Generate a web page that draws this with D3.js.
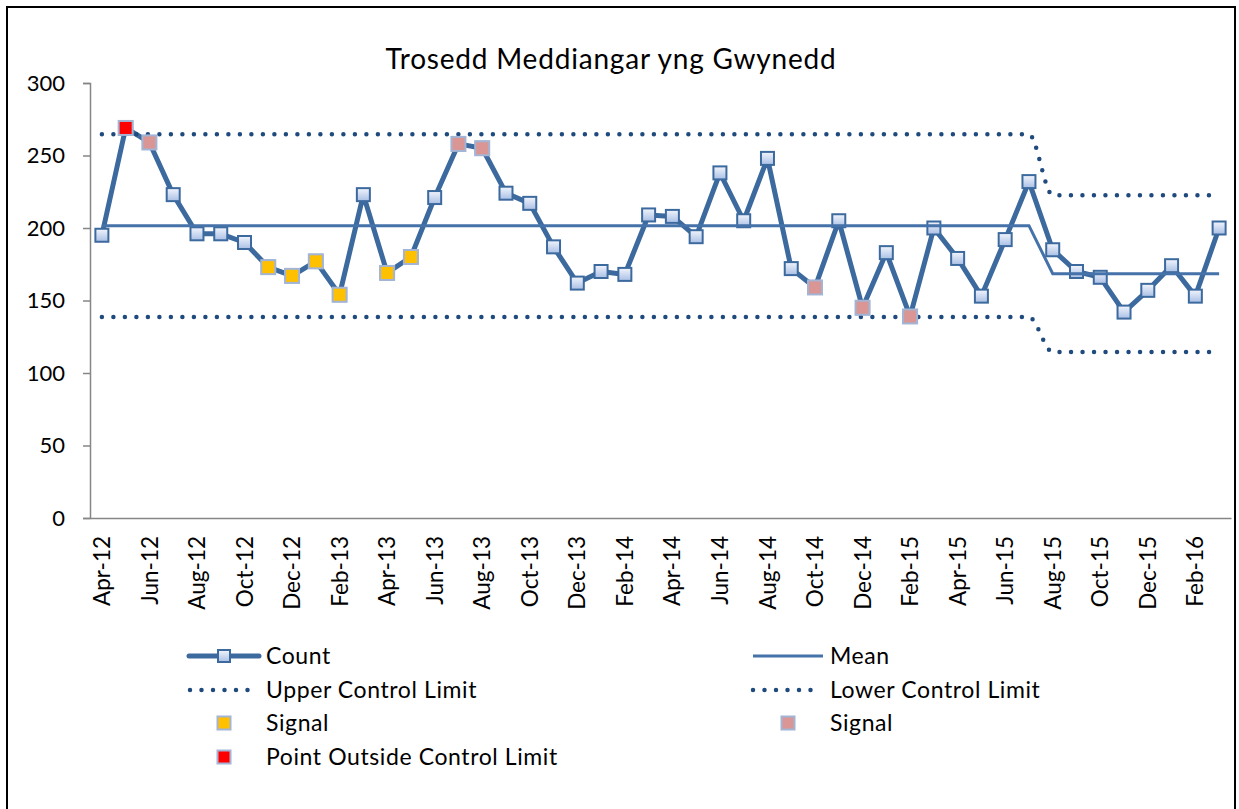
<!DOCTYPE html>
<html>
<head>
<meta charset="utf-8">
<script src="https://cdn.jsdelivr.net/npm/d3@7"></script>
<style>
  body { margin: 0; background: #fff; }
  text { font-family: Lato, "Open Sans", sans-serif; fill: #000; }
</style>
</head>
<body>
<div id="chart"></div>
<script>
var months = ['Apr-12','May-12','Jun-12','Jul-12','Aug-12','Sep-12','Oct-12','Nov-12','Dec-12',
  'Jan-13','Feb-13','Mar-13','Apr-13','May-13','Jun-13','Jul-13','Aug-13','Sep-13','Oct-13','Nov-13','Dec-13',
  'Jan-14','Feb-14','Mar-14','Apr-14','May-14','Jun-14','Jul-14','Aug-14','Sep-14','Oct-14','Nov-14','Dec-14',
  'Jan-15','Feb-15','Mar-15','Apr-15','May-15','Jun-15','Jul-15','Aug-15','Sep-15','Oct-15','Nov-15','Dec-15',
  'Jan-16','Feb-16','Mar-16'];

var counts = [195, 269, 259, 223, 196, 196, 190, 173, 167,
  177, 154, 223, 169, 180, 221, 258, 255, 224, 217, 187, 162,
  170, 168, 209, 208, 194, 238, 205, 248, 172, 159, 205, 145,
  183, 139, 200, 179, 153, 192, 232, 185, 170, 166, 142, 157,
  174, 153, 200];

var mean = [201.6, 201.6, 201.6, 201.6, 201.6, 201.6, 201.6, 201.6, 201.6,
  201.6, 201.6, 201.6, 201.6, 201.6, 201.6, 201.6, 201.6, 201.6, 201.6, 201.6, 201.6,
  201.6, 201.6, 201.6, 201.6, 201.6, 201.6, 201.6, 201.6, 201.6, 201.6, 201.6, 201.6,
  201.6, 201.6, 201.6, 201.6, 201.6, 201.6, 201.6, 168.5, 168.5, 168.5, 168.5, 168.5,
  168.5, 168.5, 168.5];

var ucl = [264.6, 264.6, 264.6, 264.6, 264.6, 264.6, 264.6, 264.6, 264.6,
  264.6, 264.6, 264.6, 264.6, 264.6, 264.6, 264.6, 264.6, 264.6, 264.6, 264.6, 264.6,
  264.6, 264.6, 264.6, 264.6, 264.6, 264.6, 264.6, 264.6, 264.6, 264.6, 264.6, 264.6,
  264.6, 264.6, 264.6, 264.6, 264.6, 264.6, 264.6, 222.6, 222.6, 222.6, 222.6, 222.6,
  222.6, 222.6, 222.6];

var lcl = [138.6, 138.6, 138.6, 138.6, 138.6, 138.6, 138.6, 138.6, 138.6,
  138.6, 138.6, 138.6, 138.6, 138.6, 138.6, 138.6, 138.6, 138.6, 138.6, 138.6, 138.6,
  138.6, 138.6, 138.6, 138.6, 138.6, 138.6, 138.6, 138.6, 138.6, 138.6, 138.6, 138.6,
  138.6, 138.6, 138.6, 138.6, 138.6, 138.6, 138.6, 114.4, 114.4, 114.4, 114.4, 114.4,
  114.4, 114.4, 114.4];

// months flagged in each signal series
var signalYellow = ['Nov-12', 'Dec-12', 'Jan-13', 'Feb-13', 'Apr-13', 'May-13'];
var signalPink = ['Jun-12', 'Jul-13', 'Aug-13', 'Oct-14', 'Dec-14', 'Feb-15'];
var outsideLimit = ['May-12'];

var yTicks = [0, 50, 100, 150, 200, 250, 300];

document.addEventListener("DOMContentLoaded", function() {
  var width = 1239,
      height = 809;

  var svg = d3.select('#chart').append('svg')
    .attr('width', width)
    .attr('height', height);

  svg.append('rect')
    .attr('width', width).attr('height', height)
    .attr('fill', '#fff');

  // outer frame (bottom edge runs off the picture)
  svg.append('rect')
    .attr('x', 7).attr('y', 7)
    .attr('width', 1228).attr('height', 900)
    .attr('fill', 'none')
    .attr('stroke', '#000')
    .attr('stroke-width', 2);

  var defs = svg.append('defs');
  var grad = defs.append('linearGradient')
    .attr('id', 'markerFill')
    .attr('x1', 0).attr('y1', 0).attr('x2', 0).attr('y2', 1);
  grad.append('stop').attr('offset', '0%').attr('stop-color', '#f2f5fc');
  grad.append('stop').attr('offset', '100%').attr('stop-color', '#a9bfe5');

  var x = d3.scaleBand()
    .domain(months)
    .range([90, 1231]);

  var y = d3.scaleLinear()
    .domain([0, 300])
    .range([518, 83]);

  function cx(d) { return x(d) + x.bandwidth() / 2; }

  // title
  svg.append('text')
    .attr('x', 611)
    .attr('y', 69)
    .attr('text-anchor', 'middle')
    .style('font-size', '28px')
    .style('letter-spacing', '0.8px')
    .text('Trosedd Meddiangar yng Gwynedd');

  // y axis
  var yAxis = svg.append('g')
    .attr('transform', 'translate(90,0)')
    .call(d3.axisLeft(y).tickValues(yTicks).tickSize(7).tickPadding(18));
  yAxis.select('.domain').attr('stroke', '#868686').attr('stroke-width', 1.5);
  yAxis.selectAll('.tick line').attr('stroke', '#868686').attr('stroke-width', 1.5);
  yAxis.selectAll('.tick text')
    .style('font-size', '22px')
    .style('font-family', 'Lato, sans-serif')
    .attr('fill', '#000');

  // x axis
  var xAxis = svg.append('g')
    .attr('transform', 'translate(0,518)')
    .call(d3.axisBottom(x)
      .tickValues(months.filter(function(d, i) { return i % 2 === 0; }))
      .tickSize(0)
      .tickSizeOuter(0));
  xAxis.select('.domain').attr('stroke', '#868686').attr('stroke-width', 1.5);
  xAxis.selectAll('.tick text')
    .style('font-size', '22.5px')
    .style('font-family', 'Lato, sans-serif')
    .attr('fill', '#000')
    .attr('text-anchor', 'end')
    .attr('transform', 'rotate(-90)')
    .attr('x', -18)
    .attr('y', 0)
    .attr('dy', '0.36em');

  var plot = svg.append('g');

  var countLine = d3.line()
    .x(function(d, i) { return cx(months[i]); })
    .y(function(d) { return y(d); });

  plot.append('path')
    .datum(counts)
    .attr('d', countLine)
    .attr('fill', 'none')
    .attr('stroke', '#3c6a9e')
    .attr('stroke-width', 5)
    .attr('stroke-linejoin', 'round');

  plot.selectAll('rect.count')
    .data(counts)
    .enter().append('rect')
    .attr('class', 'count')
    .attr('x', function(d, i) { return cx(months[i]) - 6.5; })
    .attr('y', function(d) { return y(d) - 6.5; })
    .attr('width', 13)
    .attr('height', 13)
    .attr('fill', 'url(#markerFill)')
    .attr('stroke', '#3c6a9e')
    .attr('stroke-width', 2);

  plot.append('path')
    .datum(mean)
    .attr('d', countLine)
    .attr('fill', 'none')
    .attr('stroke', '#4472a9')
    .attr('stroke-width', 3);

  var limitLine = d3.line()
    .x(function(d, i) { return cx(months[i]); })
    .y(function(d) { return y(d); })
    .curve(d3.curveMonotoneX);

  [ucl, lcl].forEach(function(series) {
    plot.append('path')
      .datum(series)
      .attr('d', limitLine)
      .attr('fill', 'none')
      .attr('stroke', '#1f4a7e')
      .attr('stroke-width', 4.5)
      .attr('stroke-linecap', 'round')
      .attr('stroke-dasharray', '0 11.5');
  });

  function signalMarks(list, colour) {
    plot.selectAll(null)
      .data(list)
      .enter().append('rect')
      .attr('x', function(d) { return cx(d) - 7; })
      .attr('y', function(d) { return y(counts[months.indexOf(d)]) - 7; })
      .attr('width', 14)
      .attr('height', 14)
      .attr('fill', colour)
      .attr('stroke', '#a3b4d4')
      .attr('stroke-width', 2);
  }
  signalMarks(signalYellow, '#ffc000');
  signalMarks(signalPink, '#d99694');
  signalMarks(outsideLimit, '#ff0000');

  // legend
  var legend = svg.append('g');
  var rows = [656, 690, 723, 757];

  legend.append('line')
    .attr('x1', 189).attr('x2', 259).attr('y1', rows[0]).attr('y2', rows[0])
    .attr('stroke', '#3c6a9e').attr('stroke-width', 5).attr('stroke-linecap', 'round');
  legend.append('rect')
    .attr('x', 218).attr('y', rows[0] - 6).attr('width', 12).attr('height', 12)
    .attr('fill', 'url(#markerFill)').attr('stroke', '#3c6a9e').attr('stroke-width', 2);

  legend.append('line')
    .attr('x1', 753).attr('x2', 823).attr('y1', rows[0]).attr('y2', rows[0])
    .attr('stroke', '#4472a9').attr('stroke-width', 3);

  [[190, rows[1]], [753, rows[1]]].forEach(function(p) {
    legend.append('line')
      .attr('x1', p[0]).attr('x2', p[0] + 62).attr('y1', p[1]).attr('y2', p[1])
      .attr('stroke', '#1f4a7e').attr('stroke-width', 4.5)
      .attr('stroke-linecap', 'round').attr('stroke-dasharray', '0 11.5');
  });

  [[224, rows[2], '#ffc000'], [788, rows[2], '#d99694'], [224, rows[3], '#ff0000']].forEach(function(p) {
    legend.append('rect')
      .attr('x', p[0] - 6.5).attr('y', p[1] - 6.5).attr('width', 13).attr('height', 13)
      .attr('fill', p[2]).attr('stroke', '#a3b4d4').attr('stroke-width', 2);
  });

  var labels = [
    [266, rows[0], 'Count'], [830, rows[0], 'Mean'],
    [266, rows[1], 'Upper Control Limit'], [830, rows[1], 'Lower Control Limit'],
    [266, rows[2], 'Signal'], [830, rows[2], 'Signal'],
    [266, rows[3], 'Point Outside Control Limit']
  ];
  legend.selectAll('text')
    .data(labels)
    .enter().append('text')
    .attr('x', function(d) { return d[0]; })
    .attr('y', function(d) { return d[1]; })
    .attr('dy', '0.36em')
    .style('font-size', '23px')
    .style('letter-spacing', '0.6px')
    .text(function(d) { return d[2]; });
});
</script>
</body>
</html>
